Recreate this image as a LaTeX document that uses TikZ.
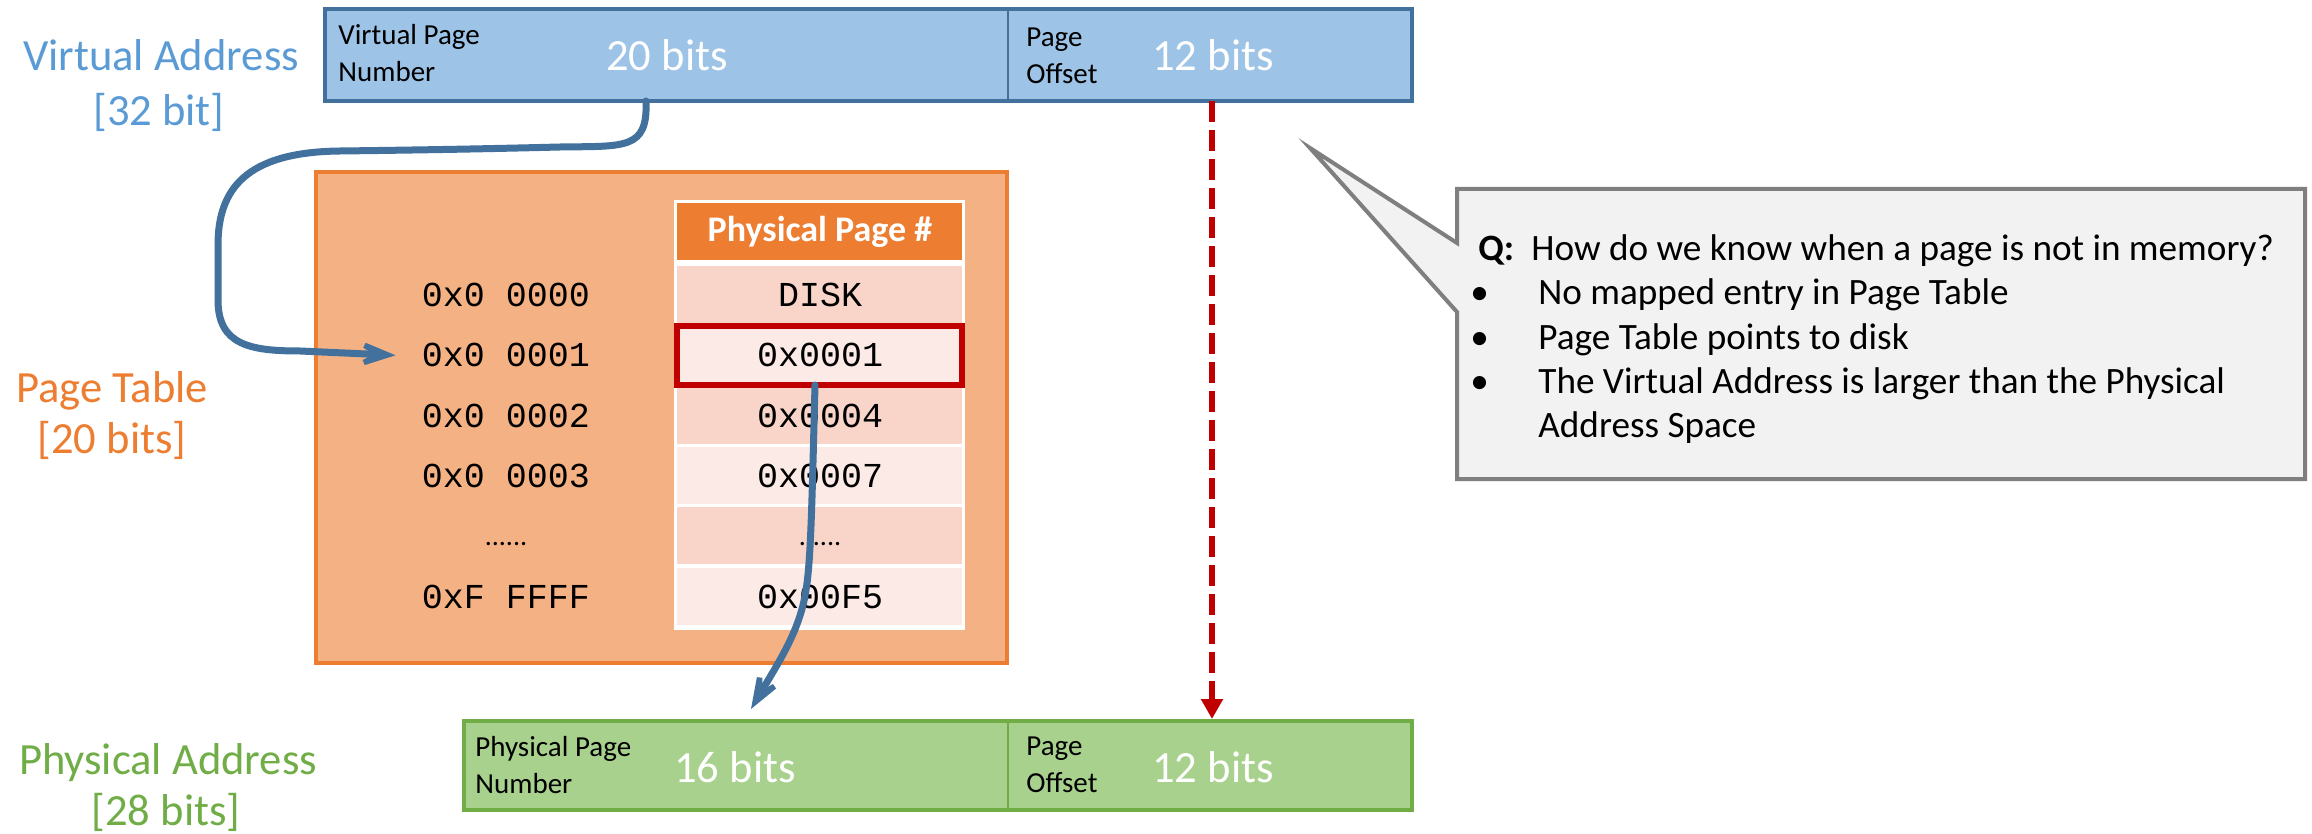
\documentclass[tikz,border=0pt]{standalone}
\usepackage{fontspec}
\setmainfont{Carlito}
\newfontfamily\codefont{Liberation Mono}
\usetikzlibrary{arrows.meta,fit}
\definecolor{vaFill}{HTML}{9DC3E6}
\definecolor{vaLine}{HTML}{41719C}
\definecolor{vaText}{HTML}{5B9BD5}
\definecolor{paFill}{HTML}{A9D18E}
\definecolor{paLine}{HTML}{70AD47}
\definecolor{ptFill}{HTML}{F4B183}
\definecolor{ptLine}{HTML}{ED7D31}
\definecolor{rowA}{HTML}{F8D5C8}
\definecolor{rowB}{HTML}{FBEAE5}
\definecolor{hitRed}{HTML}{C00000}
\definecolor{noteFill}{HTML}{F2F2F2}
\definecolor{noteLine}{HTML}{7F7F7F}
\definecolor{flowBlue}{HTML}{41719C}
\begin{document}
\begin{tikzpicture}[x=0.5pt,y=-0.5pt,
  box/.style={inner sep=0pt,outer sep=0pt},
  big/.style={text=white,font=\fontsize{22.3}{26}\selectfont,inner sep=0pt},
  lab/.style={font=\fontsize{14.5}{18.5}\selectfont,align=left,anchor=west,inner sep=0pt},
  side/.style={font=\fontsize{22.3}{26}\selectfont,inner sep=0pt},
  code/.style={font=\codefont\fontsize{17.5}{20}\selectfont,inner sep=0pt},
  note/.style={font=\fontsize{18.6}{22}\selectfont,anchor=base west,inner sep=0pt},
  flow/.style={draw=flowBlue,line width=3.5pt,line cap=round,
    -{Stealth[length=30pt,width=22pt,inset=19pt]}},
  jump/.style={draw=hitRed,line width=3pt,dash pattern=on 10.5pt off 4pt,
    -{Triangle[length=10pt,width=10.5pt]}}]
\useasboundingbox (0,0) rectangle (2312,834);
\fill[white] (0,0) rectangle (2312,834);

% ---- virtual address ----
\node[box,fill=vaFill,draw=vaLine,line width=2pt,fit={(325,9)(1412,101)}] (va) {};
\draw[vaLine,line width=1.2pt] (1008,9) -- (1008,101);
\node[lab] (vpnlbl) at (338,53) {Virtual Page\\Number};
\node[big] (vbits) at (667,55) {20 bits};
\node[lab] (voflbl) at (1026,56) {Page\\Offset};
\node[big] (vobits) at (1213,55) {12 bits};
\node[side,text=vaText] (valbl1) at (161,55) {Virtual Address};
\node[side,text=vaText] (valbl2) at (159,112) {[32 bit]};

% ---- page table ----
\node[box,fill=ptFill,draw=ptLine,line width=2pt,fit={(316,172)(1007,663)}] (pt) {};
\node[side,text=ptLine] (ptlbl1) at (112,391) {Page Table};
\node[side,text=ptLine] (ptlbl2) at (112,440) {[20 bits]};
\fill[white] (674,200) rectangle (965,630);
\node[box,fill=ptLine,fit={(677,203)(962,260)}] (head) {};
\node[text=white,inner sep=0pt,font=\bfseries\fontsize{18}{22}\selectfont] (headlbl) at (820,232) {Physical Page \#};
\foreach \i/\v/\a/\c in {0/DISK/0x0 0000/rowA,1/0x0001/0x0 0001/rowB,2/0x0004/0x0 0002/rowA,3/0x0007/0x0 0003/rowB,5/0x00F5/0xF FFFF/rowB}{
  \pgfmathsetmacro\yt{266+60.3*\i}
  \node[box,fill=\c,fit={(677,\yt)(962,\yt+57)}] (row\i) {};
  \node[code] (ppn\i) at (820,\yt+29) {\v};
  \node[code] (vpn\i) at (506,\yt+29) {\a};
}
\node[box,fill=rowA,fit={(677,507.2)(962,564.2)}] (row4) {};
\node[inner sep=0pt,anchor=base,font=\fontsize{14}{16}\selectfont] (ppn4) at (820,545) {......};
\node[inner sep=0pt,anchor=base,font=\fontsize{14}{16}\selectfont] (vpn4) at (506,545) {......};
\node[box,draw=hitRed,line width=3pt,fit={(677,326)(962,385)}] (hit) {};

% ---- physical address ----
\node[box,fill=paFill,draw=paLine,line width=2pt,fit={(464,721)(1412,810)}] (pa) {};
\draw[paLine,line width=1.2pt] (1008,721) -- (1008,810);
\node[lab] (ppnlbl) at (475,765) {Physical Page\\Number};
\node[big] (pbits) at (735,767) {16 bits};
\node[lab] (poflbl) at (1026,765) {Page\\Offset};
\node[big] (pobits) at (1213,767) {12 bits};
\node[side,text=paLine] (palbl1) at (168,763) {Physical Address};
\node[side,text=paLine] (palbl2) at (166,812) {[28 bits]};

% ---- connectors ----
\coordinate (vpnout) at (646,101);
\coordinate (rowin) at ([xshift=-13pt]vpn1.west);
\draw[flow] (vpnout) .. controls (648,150) and (625,146) .. (560,147)
  .. controls (480,149) and (420,150) .. (340,151)
  .. controls (245,152) and (218,190) .. (218,245)
  -- (218,300) .. controls (218,345) and (250,351) .. (300,351) -- (rowin);
\coordinate (ppnin) at (751,709);
\draw[flow] (hit.south -| 815,0) .. controls (812,500) and (811,560) .. (806,590)
  .. controls (800,630) and (780,660) .. (ppnin);
\coordinate (offout) at (1212,101);
\coordinate (offin) at (1212,719);
\draw[jump] (offout) -- (offin);

% ---- question callout ----
\draw[fill=noteFill,draw=noteLine,line width=2pt,line join=miter]
  (1457,189) -- (2305,189) -- (2305,479) -- (1457,479) -- (1457,312)
  -- (1310,148) -- (1457,243) -- cycle;
\node[note] (q0) at (1478,261) {\makebox[26.5pt][l]{\textbf{Q:}}How do we know when a page is not in memory?};
\node[note] (q1) at (1470,305) {\makebox[34pt][l]{\textbullet}No mapped entry in Page Table};
\node[note] (q2) at (1470,349) {\makebox[34pt][l]{\textbullet}Page Table points to disk};
\node[note] (q3) at (1470,393) {\makebox[34pt][l]{\textbullet}The Virtual Address is larger than the Physical};
\node[note] (q4) at (1538,437) {Address Space};
\end{tikzpicture}
\end{document}
